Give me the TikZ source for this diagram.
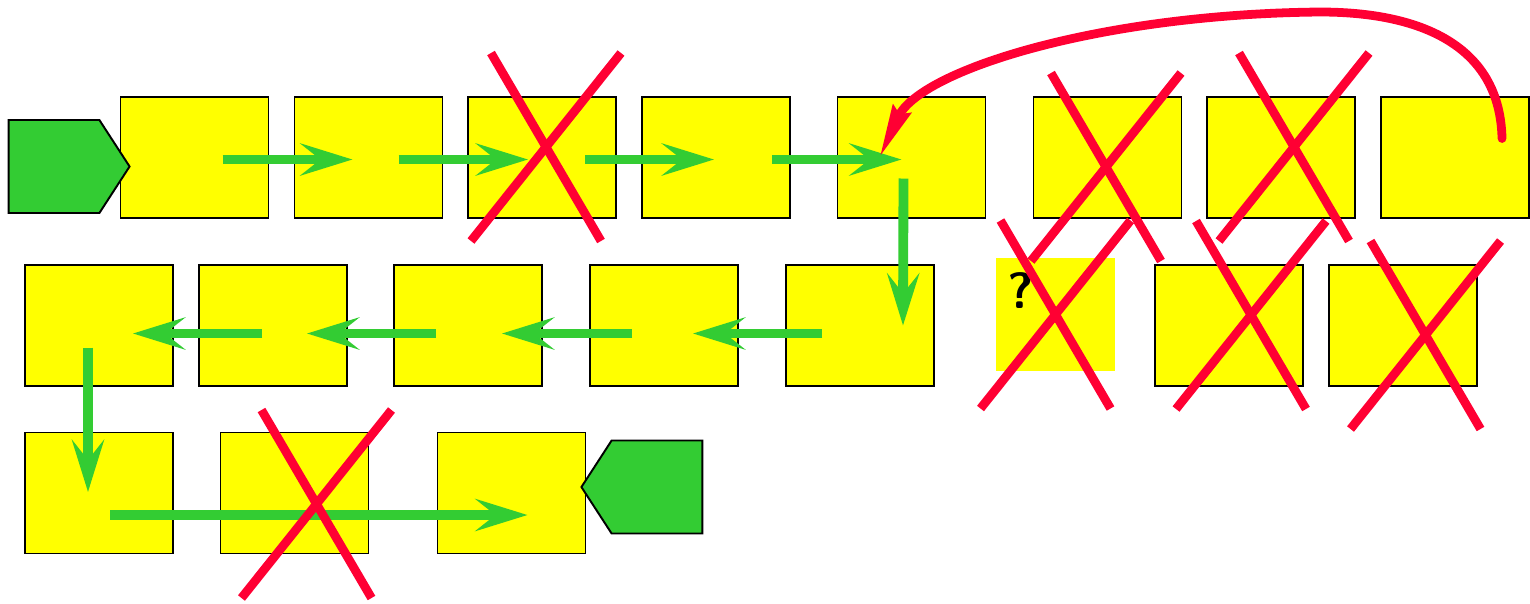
\documentclass[tikz,border=0pt]{standalone}
\usepackage{tikz}
\usetikzlibrary{arrows.meta, positioning, calc, shapes.symbols}
\definecolor{cellyellow}{HTML}{FFFF00}
\definecolor{flowgreen}{HTML}{33CC33}
\definecolor{crossred}{HTML}{FF0033}
\newcommand{\crossmark}[2]{%
  \draw[cross] ($(#1)+(#2)+(-55,-94)$) -- ($(#1)+(#2)+(55,94)$);
  \draw[cross] ($(#1)+(#2)+(75,-94)$) -- ($(#1)+(#2)+(-75,94)$);
}
\begin{document}
\begin{tikzpicture}[
  x=0.02cm, y=-0.02cm,
  cell/.style={rectangle, draw=black, line width=1.1pt, fill=cellyellow,
               minimum width=2.96cm, minimum height=2.42cm, inner sep=0pt},
  blank/.style={rectangle, fill=cellyellow, minimum width=2.38cm,
                minimum height=2.26cm, inner sep=0pt},
  endcap/.style={signal, draw=black, line width=1.1pt, fill=flowgreen,
                 signal pointer angle=114, minimum width=2.42cm,
                 minimum height=1.86cm, inner sep=0pt},
  flow/.style={-{Stealth[length=1.04cm, width=0.64cm, inset=0.4cm]},
               line width=5.6pt, flowgreen},
  cross/.style={line width=5pt, crossred},
  jump/.style={-{Stealth[length=1.05cm, width=0.38cm, inset=0.1cm]},
               line width=5pt, crossred, line cap=round},
  qmark/.style={font=\sffamily\bfseries\fontsize{29}{31}\selectfont, inner sep=0pt}
]
\useasboundingbox (0,0) rectangle (1530,603);

% first row
\node[cell] (b11) at (194.5,157.5) {};
\node[cell] (b12) at (368.5,157.5) {};
\node[cell] (b13) at (542,157.5) {};
\node[cell] (b14) at (716,157.5) {};
\node[cell] (b15) at (911.5,157.5) {};
\node[cell] (b16) at (1107.5,157.5) {};
\node[cell] (b17) at (1281,157.5) {};
\node[cell] (b18) at (1455,157.5) {};

% second row
\node[cell] (b21) at (99,325.5) {};
\node[cell] (b22) at (273,325.5) {};
\node[cell] (b23) at (468,325.5) {};
\node[cell] (b24) at (664,325.5) {};
\node[cell] (b25) at (860,325.5) {};
\node[blank] (q) at (1055.5,314.5) {};
\node[qmark] (qm) at (1021,291) {?};
\node[cell] (b27) at (1229,325.5) {};
\node[cell] (b28) at (1403,325.5) {};

% third row
\node[cell] (b31) at (99,493) {};
\node[cell] (b32) at (294.5,493) {};
\node[cell] (b33) at (511.5,493) {};

% entry and exit
\node[endcap, signal to=east, signal from=nowhere] (start) at (54,166.5) {};
\node[endcap, signal to=west, signal from=nowhere] (stop) at (657,487) {};

% path through the cells
\draw[flow] ($(b11)+(28,2)$) -- ($(b12)+(-16,2)$);
\draw[flow] ($(b12)+(30,2)$) -- ($(b13)+(-14,2)$);
\draw[flow] ($(b13)+(43,2)$) -- ($(b14)+(-2,2)$);
\draw[flow] ($(b14)+(56,2)$) -- ($(b15)+(-10,2)$);
\draw[flow] ($(b15)+(-8,21)$) -- ($(b25)+(43,0)$);
\draw[flow] ($(b25)+(-38,8)$) -- ($(b24)+(29,8)$);
\draw[flow] ($(b24)+(-32,8)$) -- ($(b23)+(34,8)$);
\draw[flow] ($(b23)+(-32,8)$) -- ($(b22)+(34,8)$);
\draw[flow] ($(b22)+(-11,8)$) -- ($(b21)+(34,8)$);
\draw[flow] ($(b21)+(-11,22)$) -- ($(b31)+(-11,-1)$);
\draw[flow] ($(b31)+(11,22)$) -- ($(b33)+(16,22)$);

% removed cells
\crossmark{b13}{4,-10.5}
\crossmark{b16}{-1.5,9.5}
\crossmark{b17}{13,-10.5}
\crossmark{q}{0,0}
\crossmark{b27}{22,-10.5}
\crossmark{b28}{22.5,9.5}
\crossmark{b32}{22,11}

% jump back
\coordinate (top) at (1320,12);
\draw[jump] ($(b18)+(47,-19)$) .. controls (1500,45) and (1420,12) .. (top)
  .. controls (1100,14) and (920,70) .. ($(b15)+(-32,0)$);

\end{tikzpicture}
\end{document}
